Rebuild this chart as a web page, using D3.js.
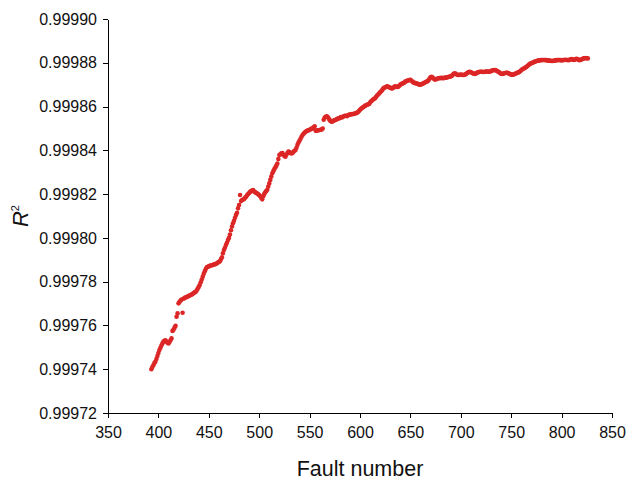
<!DOCTYPE html>
<html>
<head>
<meta charset="utf-8">
<script src="https://cdn.jsdelivr.net/npm/d3@7"></script>
<style>
  body { margin: 0; background: #fff; }
  svg { display: block; font-family: "Liberation Sans", Arial, sans-serif; }
  .axis path, .axis line { stroke: #000; shape-rendering: crispEdges; }
  .axis text { font-size: 16px; fill: #111; }
</style>
</head>
<body>
<div id="chart"></div>
<script>
// fault numbers on x, one point each
var faults = d3.range(393, 827);

// R^2, one per fault number
var r2 = [
  0.9997400,0.9997410,0.9997418,0.9997428,0.9997434,0.9997447,0.9997460,0.9997474,0.9997488,0.9997498,
  0.9997508,0.9997518,0.9997526,0.9997530,0.9997532,0.9997526,0.9997521,0.9997518,0.9997524,0.9997532,
  0.9997541,0.9997575,0.9997580,0.9997590,0.9997598,0.9997640,0.9997655,0.9997701,0.9997708,0.9997714,
  0.9997718,0.9997658,0.9997722,0.9997726,0.9997728,0.9997730,0.9997732,0.9997734,0.9997737,0.9997739,
  0.9997741,0.9997744,0.9997748,0.9997751,0.9997754,0.9997760,0.9997768,0.9997776,0.9997785,0.9997797,
  0.9997810,0.9997823,0.9997836,0.9997848,0.9997858,0.9997866,0.9997868,0.9997870,0.9997872,0.9997874,
  0.9997875,0.9997876,0.9997878,0.9997880,0.9997881,0.9997884,0.9997887,0.9997890,0.9997893,0.9997902,
  0.9997911,0.9997930,0.9997945,0.9997955,0.9997967,0.9997978,0.9997990,0.9998000,0.9998015,0.9998035,
  0.9998052,0.9998067,0.9998078,0.9998092,0.9998105,0.9998115,0.9998135,0.9998150,0.9998196,0.9998168,
  0.9998173,0.9998175,0.9998178,0.9998183,0.9998188,0.9998195,0.9998200,0.9998205,0.9998210,0.9998214,
  0.9998216,0.9998218,0.9998212,0.9998208,0.9998206,0.9998203,0.9998199,0.9998196,0.9998190,0.9998183,
  0.9998176,0.9998190,0.9998200,0.9998208,0.9998214,0.9998220,0.9998235,0.9998249,0.9998265,0.9998280,
  0.9998295,0.9998305,0.9998315,0.9998322,0.9998330,0.9998340,0.9998360,0.9998379,0.9998382,0.9998386,
  0.9998388,0.9998380,0.9998374,0.9998371,0.9998380,0.9998388,0.9998394,0.9998392,0.9998388,0.9998386,
  0.9998388,0.9998393,0.9998398,0.9998401,0.9998412,0.9998425,0.9998436,0.9998444,0.9998453,0.9998462,
  0.9998470,0.9998476,0.9998480,0.9998485,0.9998488,0.9998490,0.9998492,0.9998494,0.9998496,0.9998500,
  0.9998500,0.9998505,0.9998510,0.9998490,0.9998490,0.9998492,0.9998492,0.9998493,0.9998494,0.9998495,
  0.9998500,0.9998540,0.9998550,0.9998553,0.9998555,0.9998552,0.9998545,0.9998538,0.9998533,0.9998531,
  0.9998533,0.9998536,0.9998538,0.9998540,0.9998542,0.9998545,0.9998546,0.9998548,0.9998552,0.9998550,
  0.9998553,0.9998556,0.9998558,0.9998558,0.9998556,0.9998560,0.9998562,0.9998563,0.9998565,0.9998566,
  0.9998565,0.9998567,0.9998568,0.9998570,0.9998571,0.9998575,0.9998580,0.9998585,0.9998590,0.9998593,
  0.9998597,0.9998600,0.9998603,0.9998606,0.9998608,0.9998610,0.9998612,0.9998618,0.9998624,0.9998628,
  0.9998632,0.9998636,0.9998638,0.9998645,0.9998650,0.9998655,0.9998660,0.9998665,0.9998670,0.9998675,
  0.9998682,0.9998686,0.9998688,0.9998690,0.9998692,0.9998690,0.9998688,0.9998686,0.9998684,0.9998683,
  0.9998686,0.9998690,0.9998692,0.9998690,0.9998689,0.9998691,0.9998695,0.9998700,0.9998703,0.9998705,
  0.9998707,0.9998710,0.9998714,0.9998716,0.9998718,0.9998720,0.9998721,0.9998722,0.9998718,0.9998714,
  0.9998710,0.9998708,0.9998707,0.9998706,0.9998704,0.9998702,0.9998700,0.9998700,0.9998702,0.9998704,
  0.9998706,0.9998709,0.9998712,0.9998713,0.9998716,0.9998720,0.9998728,0.9998734,0.9998736,0.9998733,
  0.9998728,0.9998724,0.9998724,0.9998726,0.9998728,0.9998729,0.9998730,0.9998730,0.9998731,0.9998730,
  0.9998730,0.9998731,0.9998732,0.9998733,0.9998734,0.9998736,0.9998736,0.9998738,0.9998740,0.9998745,
  0.9998750,0.9998752,0.9998750,0.9998746,0.9998744,0.9998744,0.9998745,0.9998746,0.9998745,0.9998744,
  0.9998744,0.9998746,0.9998748,0.9998752,0.9998755,0.9998758,0.9998759,0.9998757,0.9998754,0.9998752,
  0.9998750,0.9998749,0.9998751,0.9998754,0.9998756,0.9998758,0.9998759,0.9998759,0.9998759,0.9998758,
  0.9998758,0.9998759,0.9998760,0.9998760,0.9998759,0.9998759,0.9998760,0.9998762,0.9998764,0.9998766,
  0.9998767,0.9998767,0.9998765,0.9998762,0.9998760,0.9998757,0.9998753,0.9998750,0.9998749,0.9998750,
  0.9998752,0.9998753,0.9998754,0.9998754,0.9998753,0.9998750,0.9998748,0.9998746,0.9998745,0.9998746,
  0.9998748,0.9998750,0.9998752,0.9998754,0.9998756,0.9998758,0.9998762,0.9998766,0.9998770,0.9998773,
  0.9998775,0.9998778,0.9998781,0.9998785,0.9998789,0.9998793,0.9998796,0.9998798,0.9998800,0.9998802,
  0.9998804,0.9998806,0.9998808,0.9998809,0.9998810,0.9998811,0.9998812,0.9998812,0.9998813,0.9998813,
  0.9998813,0.9998812,0.9998812,0.9998811,0.9998810,0.9998810,0.9998809,0.9998808,0.9998808,0.9998809,
  0.9998810,0.9998811,0.9998812,0.9998812,0.9998813,0.9998813,0.9998812,0.9998811,0.9998812,0.9998813,
  0.9998813,0.9998814,0.9998813,0.9998813,0.9998812,0.9998814,0.9998816,0.9998817,0.9998815,0.9998813,
  0.9998814,0.9998817,0.9998818,0.9998816,0.9998813,0.9998812,0.9998814,0.9998816,0.9998818,0.9998820,
  0.9998821,0.9998822,0.9998821,0.9998820
];

var xTicks = [350, 400, 450, 500, 550, 600, 650, 700, 750, 800, 850];
var yTicks = [0.99972, 0.99974, 0.99976, 0.99978, 0.99980, 0.99982, 0.99984, 0.99986, 0.99988, 0.99990];

var width = 627, height = 482;
var margin = {top: 19, right: 15, bottom: 69, left: 108};

var svg = d3.select("#chart").append("svg")
    .attr("width", width)
    .attr("height", height);

var x = d3.scaleLinear().domain([350, 850]).range([margin.left, width - margin.right]);
var y = d3.scaleLinear().domain([0.99972, 0.99990]).range([height - margin.bottom, margin.top]);

// axes
svg.append("g")
    .attr("class", "axis")
    .attr("transform", "translate(0," + (height - margin.bottom) + ")")
    .call(d3.axisBottom(x).tickValues(xTicks).tickSize(5).tickSizeOuter(0).tickPadding(9).tickFormat(d3.format("d")));

svg.append("g")
    .attr("class", "axis")
    .attr("transform", "translate(" + margin.left + ",0)")
    .call(d3.axisLeft(y).tickValues(yTicks).tickSize(5).tickSizeOuter(0).tickPadding(6).tickFormat(d3.format(".5f")));

// points
var points = faults.map(function(f, i) { return {f: f, r: r2[i]}; });

svg.append("g").selectAll("circle")
    .data(points)
    .enter().append("circle")
    .attr("cx", function(d) { return x(d.f); })
    .attr("cy", function(d) { return y(d.r); })
    .attr("r", 2.3)
    .attr("fill", "#dc2626");

// axis titles
svg.append("text")
    .attr("x", (x(350) + x(850)) / 2)
    .attr("y", 476)
    .attr("text-anchor", "middle")
    .style("font-size", "21.5px")
    .style("fill", "#111")
    .text("Fault number");

var yt = svg.append("text")
    .attr("transform", "translate(28," + y(0.99981) + ") rotate(-90)")
    .attr("text-anchor", "middle")
    .style("font-size", "22px")
    .style("fill", "#111");
yt.append("tspan").style("font-style", "italic").text("R");
yt.append("tspan").attr("dy", -9).style("font-size", "11px").text("2");
</script>
</body>
</html>
